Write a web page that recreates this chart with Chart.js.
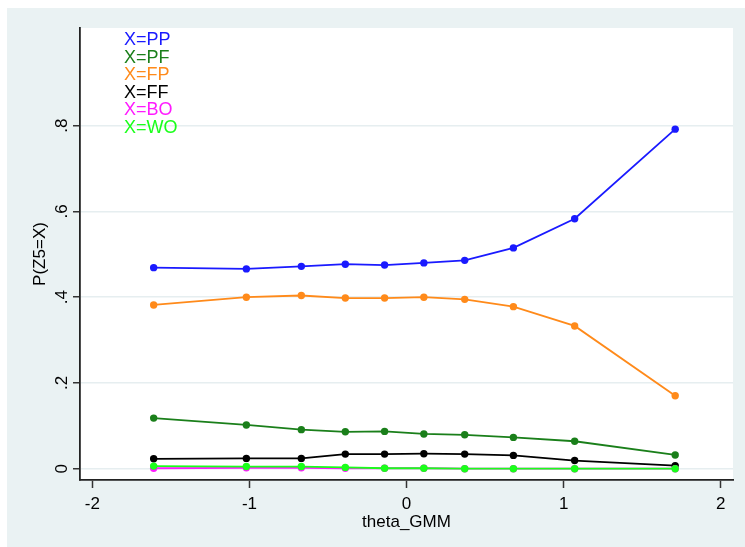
<!DOCTYPE html>
<html>
<head>
<meta charset="utf-8">
<script src="https://cdn.jsdelivr.net/npm/chart.js@4.4.1/dist/chart.umd.min.js"></script>
<style>
  html, body { margin: 0; padding: 0; background: #ffffff; }
  #wrap { width: 745px; height: 547px; }
</style>
</head>
<body>
<div id="wrap"><canvas id="myChart" width="745" height="547"></canvas></div>
<script>
// values
const thetaGMM = [-1.61, -1.02, -0.67, -0.39, -0.14, 0.11, 0.37, 0.68, 1.07, 1.71];
const pPP = [0.469, 0.466, 0.472, 0.477, 0.475, 0.480, 0.486, 0.515, 0.583, 0.792];
const pPF = [0.118, 0.102, 0.091, 0.086, 0.087, 0.081, 0.079, 0.073, 0.064, 0.032];
const pFP = [0.382, 0.400, 0.404, 0.398, 0.398, 0.400, 0.395, 0.378, 0.333, 0.170];
const pFF = [0.023, 0.024, 0.024, 0.034, 0.034, 0.035, 0.034, 0.031, 0.019, 0.007];
const pBO = [0.001, 0.002, 0.002, 0.001, 0.001, 0.001, 0.000, 0.000, 0.000, 0.000];
const pWO = [0.006, 0.005, 0.005, 0.003, 0.001, 0.001, 0.000, 0.000, 0.000, 0.000];

const seriesNames = ['X=PP', 'X=PF', 'X=FP', 'X=FF', 'X=BO', 'X=WO'];
const seriesColors = ['#1a1aff', '#1a7f1a', '#ff8a1a', '#000000', '#ff1aff', '#1aff1a'];
const seriesValues = [pPP, pPF, pFP, pFF, pBO, pWO];

const xTicks = [-2, -1, 0, 1, 2];
const yTicks = [0, 0.2, 0.4, 0.6, 0.8];
const yTickLabels = ['0', '.2', '.4', '.6', '.8'];

const FONT = '"Liberation Sans", Arial, sans-serif';
const BG = '#eaf2f3';

// stata-ish backgrounds: light graph region, white plot region
const backdrop = {
  id: 'backdrop',
  beforeDraw(chart) {
    const { ctx, chartArea: a } = chart;
    ctx.save();
    ctx.fillStyle = '#ffffff';
    ctx.fillRect(0, 0, chart.width, chart.height);
    ctx.fillStyle = BG;
    ctx.fillRect(7, 8, chart.width - 7, chart.height - 8);
    ctx.fillStyle = '#ffffff';
    ctx.fillRect(a.left, a.top, a.right - a.left, a.bottom - a.top);
    ctx.restore();
  }
};

// legend as coloured text inside the plot
const textLegend = {
  id: 'textLegend',
  afterDatasetsDraw(chart) {
    const { ctx } = chart;
    ctx.save();
    ctx.font = '18px ' + FONT;
    ctx.textBaseline = 'middle';
    ctx.textAlign = 'left';
    chart.data.datasets.forEach((ds, i) => {
      ctx.fillStyle = ds.borderColor;
      ctx.fillText(ds.label, 124, 40 + i * 17.6);
    });
    ctx.restore();
  }
};

const datasets = seriesNames.map((name, i) => ({
  label: name,
  data: thetaGMM.map((t, j) => ({ x: t, y: seriesValues[i][j] })),
  borderColor: seriesColors[i],
  backgroundColor: seriesColors[i],
  borderWidth: 1.8,
  pointRadius: 3.7,
  pointHoverRadius: 3.7,
  pointBorderWidth: 0,
  showLine: true,
  tension: 0,
  order: seriesNames.length - i
}));

new Chart(document.getElementById('myChart'), {
  type: 'scatter',
  data: { datasets: datasets },
  options: {
    responsive: false,
    animation: false,
    events: [],
    layout: { padding: { left: 0, top: 28, right: 12, bottom: 0 } },
    plugins: { legend: { display: false }, tooltip: { enabled: false } },
    scales: {
      x: {
        type: 'linear',
        min: -2.079,
        max: 2.078,
        afterBuildTicks: (s) => { s.ticks = xTicks.map(v => ({ value: v })); },
        afterFit: (s) => { s.height = 67; },
        ticks: {
          color: '#000',
          font: { family: FONT, size: 17 },
          padding: 6,
          maxRotation: 0,
          callback: (v) => String(v)
        },
        grid: {
          drawOnChartArea: false,
          drawTicks: true,
          tickLength: 8,
          tickColor: '#333',
          tickWidth: 1.5
        },
        border: { display: true, color: '#222', width: 1.8 },
        title: {
          display: true,
          text: 'theta_GMM',
          color: '#000',
          font: { family: FONT, size: 17 },
          padding: { top: 0, bottom: 14 }
        }
      },
      y: {
        type: 'linear',
        min: -0.0264,
        max: 1.028,
        afterBuildTicks: (s) => { s.ticks = yTicks.map(v => ({ value: v })); },
        afterFit: (s) => { s.width = 80; },
        ticks: {
          color: '#000',
          font: { family: FONT, size: 17 },
          padding: 4,
          minRotation: 90,
          maxRotation: 90,
          crossAlign: 'center',
          callback: (v) => yTickLabels[yTicks.indexOf(v)] ?? ''
        },
        grid: {
          color: '#e6eef0',
          lineWidth: 1.5,
          drawTicks: true,
          tickLength: 7,
          tickColor: '#333',
          tickWidth: 1.5
        },
        border: { display: true, color: '#222', width: 1.8 },
        title: {
          display: true,
          text: 'P(Z5=X)',
          color: '#000',
          font: { family: FONT, size: 17 },
          padding: { top: 30, bottom: 0 }
        }
      }
    }
  },
  plugins: [backdrop, textLegend]
});
</script>
</body>
</html>
